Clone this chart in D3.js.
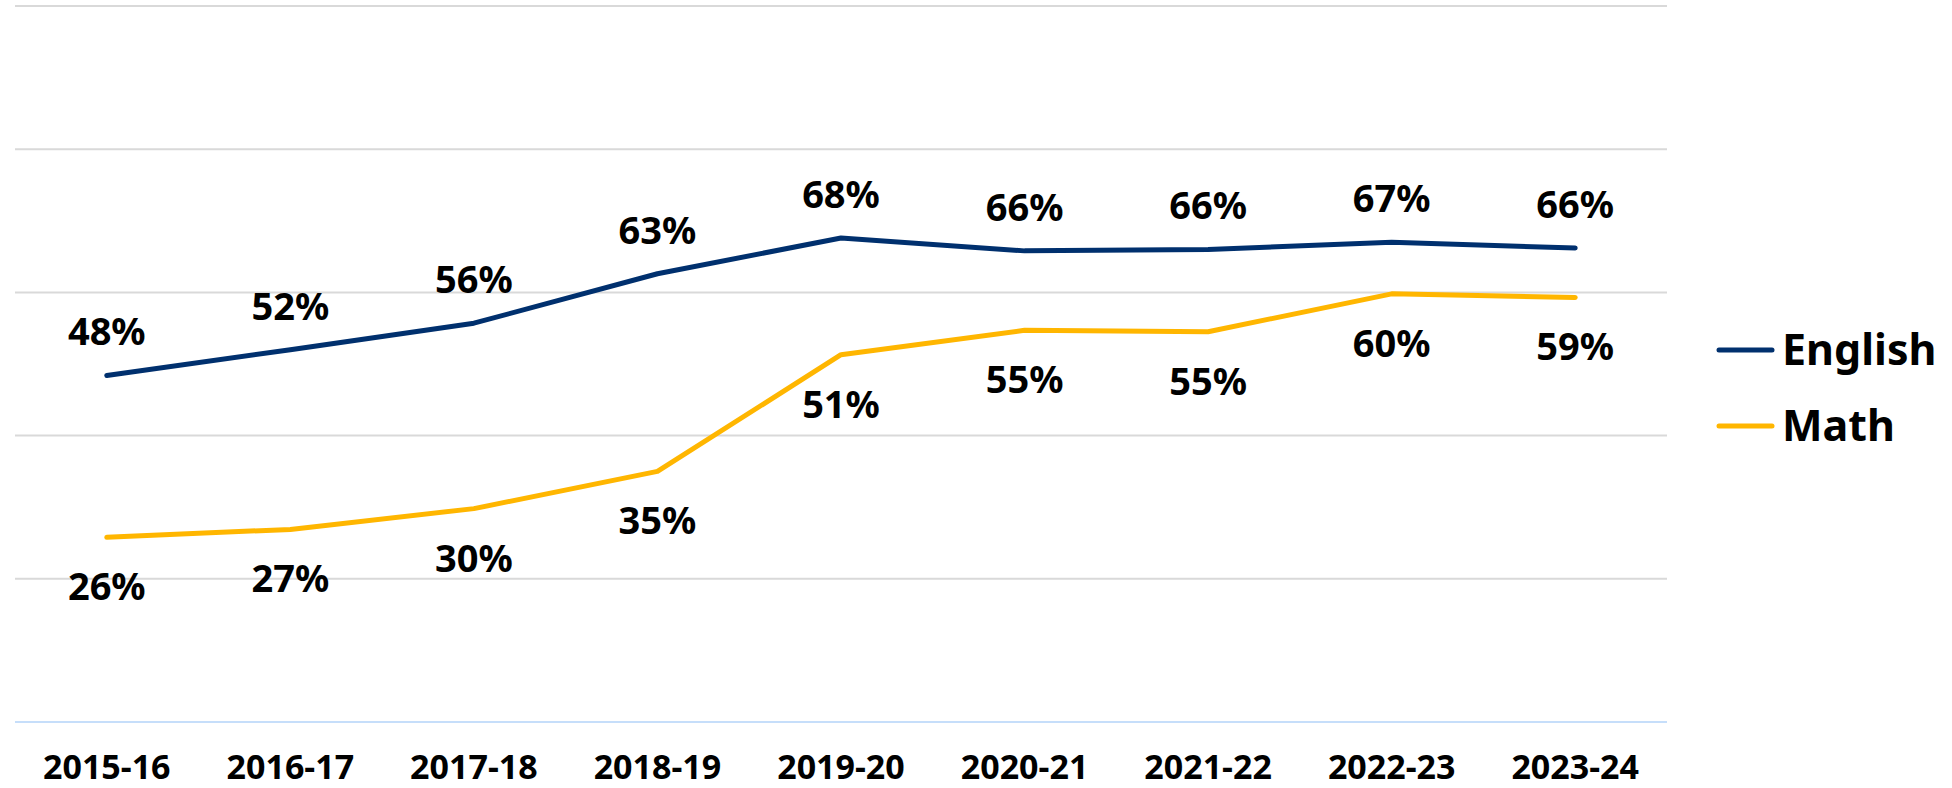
<!doctype html>
<html>
<head>
<meta charset="UTF-8">
<title>English and Math</title>
<script src="https://d3js.org/d3.v7.min.js"></script>
<style>
  body { margin: 0; background: #fff; }
  text { font-family: "Noto Sans", sans-serif; font-weight: 700; fill: #000; }
</style>
</head>
<body>
<script>
// data
var years = ["2015-16", "2016-17", "2017-18", "2018-19", "2019-20", "2020-21", "2021-22", "2022-23", "2023-24"];
var english = [48.4, 52.0, 55.7, 62.6, 67.6, 65.8, 66.0, 67.0, 66.2];
var math = [25.8, 26.9, 29.8, 35.0, 51.3, 54.7, 54.5, 59.8, 59.3];
var englishLabels = ["48%", "52%", "56%", "63%", "68%", "66%", "66%", "67%", "66%"];
var mathLabels = ["26%", "27%", "30%", "35%", "51%", "55%", "55%", "60%", "59%"];
var yTicks = [0, 20, 40, 60, 80, 100];

var W = 1952, H = 788;
var plotLeft = 15, plotRight = 1667, plotTop = 6, plotBottom = 722;

var svg = d3.select("body").append("svg")
    .attr("width", W)
    .attr("height", H);

var x = d3.scaleBand().domain(years).range([plotLeft, plotRight]);
var y = d3.scaleLinear().domain([0, 100]).range([plotBottom, plotTop]);
var cx = function(d) { return x(d) + x.bandwidth() / 2; };

// gridlines
svg.append("g").selectAll("line")
    .data(yTicks.filter(function(t) { return t > 0; }))
    .enter().append("line")
    .attr("x1", plotLeft).attr("x2", plotRight)
    .attr("y1", function(d) { return y(d); })
    .attr("y2", function(d) { return y(d); })
    .attr("stroke", "#d9d9d9")
    .attr("stroke-width", 2);

// x axis baseline
svg.append("line")
    .attr("x1", plotLeft).attr("x2", plotRight)
    .attr("y1", y(0)).attr("y2", y(0))
    .attr("stroke", "#c6defa")
    .attr("stroke-width", 2);

// x labels
svg.append("g").selectAll("text")
    .data(years)
    .enter().append("text")
    .attr("x", cx)
    .attr("y", 779)
    .attr("text-anchor", "middle")
    .style("font-size", "34px")
    .text(function(d) { return d; });

var series = [
    { name: "English", values: english, labels: englishLabels, color: "#00306e", dy: -30 },
    { name: "Math", values: math, labels: mathLabels, color: "#ffb600", dy: 63 }
];

var line = d3.line()
    .x(function(d, i) { return cx(years[i]); })
    .y(function(d) { return y(d); });

series.forEach(function(s) {
    svg.append("path")
        .attr("d", line(s.values))
        .attr("fill", "none")
        .attr("stroke", s.color)
        .attr("stroke-width", 5)
        .attr("stroke-linecap", "round")
        .attr("stroke-linejoin", "round");

    svg.append("g").selectAll("text")
        .data(s.values)
        .enter().append("text")
        .attr("x", function(d, i) { return cx(years[i]); })
        .attr("y", function(d) { return y(d) + s.dy; })
        .attr("text-anchor", "middle")
        .style("font-size", "38px")
        .text(function(d, i) { return s.labels[i]; });
});

// legend
var legend = svg.append("g");
series.forEach(function(s, i) {
    var ly = 350 + i * 76;
    legend.append("line")
        .attr("x1", 1719).attr("x2", 1772)
        .attr("y1", ly).attr("y2", ly)
        .attr("stroke", s.color)
        .attr("stroke-width", 5)
        .attr("stroke-linecap", "round");
    legend.append("text")
        .attr("x", 1782)
        .attr("y", ly + 15)
        .style("font-size", "43px")
        .text(s.name);
});
</script>
</body>
</html>
